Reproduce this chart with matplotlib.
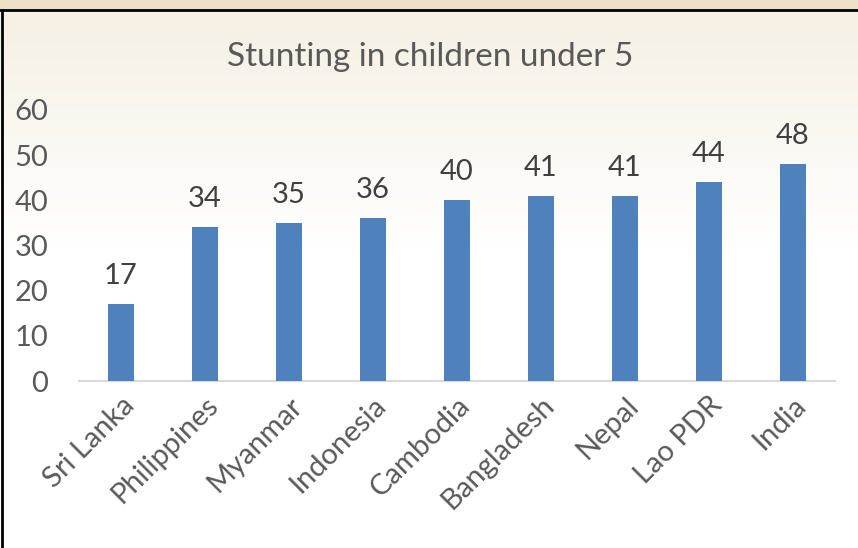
import matplotlib
matplotlib.use("Agg")
import matplotlib.pyplot as plt
import numpy as np
from matplotlib.lines import Line2D

categories = ["Sri Lanka", "Philippines", "Myanmar", "Indonesia", "Cambodia",
              "Bangladesh", "Nepal", "Lao PDR", "India"]
values = [17, 34, 35, 36, 40, 41, 41, 44, 48]
yticks = [0, 10, 20, 30, 40, 50, 60]
title = "Stunting in children under 5"

plt.rcParams['font.family'] = ['Lato', 'DejaVu Sans']
txt = "#595959"

fig = plt.figure(figsize=(8.58, 5.48), dpi=100)
fig.patch.set_facecolor("white")

# background gradient (cream at top fading to white)
bg = fig.add_axes([0, 0, 1, 1], zorder=-10)
grad = np.linspace(0, 1, 256).reshape(-1, 1)
cream = np.array([0.965, 0.945, 0.90])
white = np.array([1.0, 1.0, 1.0])
t = np.clip((grad - 0.05) / 0.40, 0, 1)
img = cream[None, None, :] * (1 - t[..., None]) + white[None, None, :] * t[..., None]
bg.imshow(img, aspect='auto', extent=[0, 1, 0, 1], origin='upper')
top_y = 1 - 10 / 548
bg.fill_between([0, 1], top_y, 1, color="#EDE2C8")
bg.add_line(Line2D([0, 1], [top_y, top_y], color="black", lw=2))
bg.add_line(Line2D([0.002, 0.002], [0, top_y], color="black", lw=2))
bg.set_xlim(0, 1); bg.set_ylim(0, 1)
bg.axis("off")

ax = fig.add_axes([79 / 858, 1 - 381 / 548, (835 - 79) / 858, (381 - 110) / 548])
ax.patch.set_alpha(0)
x = np.arange(len(categories))
ax.bar(x, values, width=0.31, color="#4F81BD", zorder=3)
ax.set_xlim(-0.5, len(categories) - 0.5)
ax.set_ylim(0, 60)
ax.set_yticks(yticks)
ax.set_yticklabels([str(v) for v in yticks], fontsize=21, color=txt)
ax.set_xticks(x)
ax.set_xticklabels(categories, rotation=45, ha="right", rotation_mode="anchor",
                   fontsize=21, color=txt)
ax.tick_params(axis='y', length=0, pad=22)
ax.tick_params(axis='x', length=0, pad=8)
for s in ["top", "right", "left"]:
    ax.spines[s].set_visible(False)
ax.spines["bottom"].set_color("#D9D9D9")
ax.spines["bottom"].set_linewidth(1.5)

for xi, v in zip(x, values):
    ax.annotate(str(v), (xi, v), xytext=(0, 11), textcoords="offset points",
                ha="center", va="bottom", fontsize=21, color="#404040")

fig.text(430 / 858, 1 - 57 / 548, title, ha="center", va="center",
         fontsize=24, color=txt)

fig.savefig("out.png", dpi=100)
